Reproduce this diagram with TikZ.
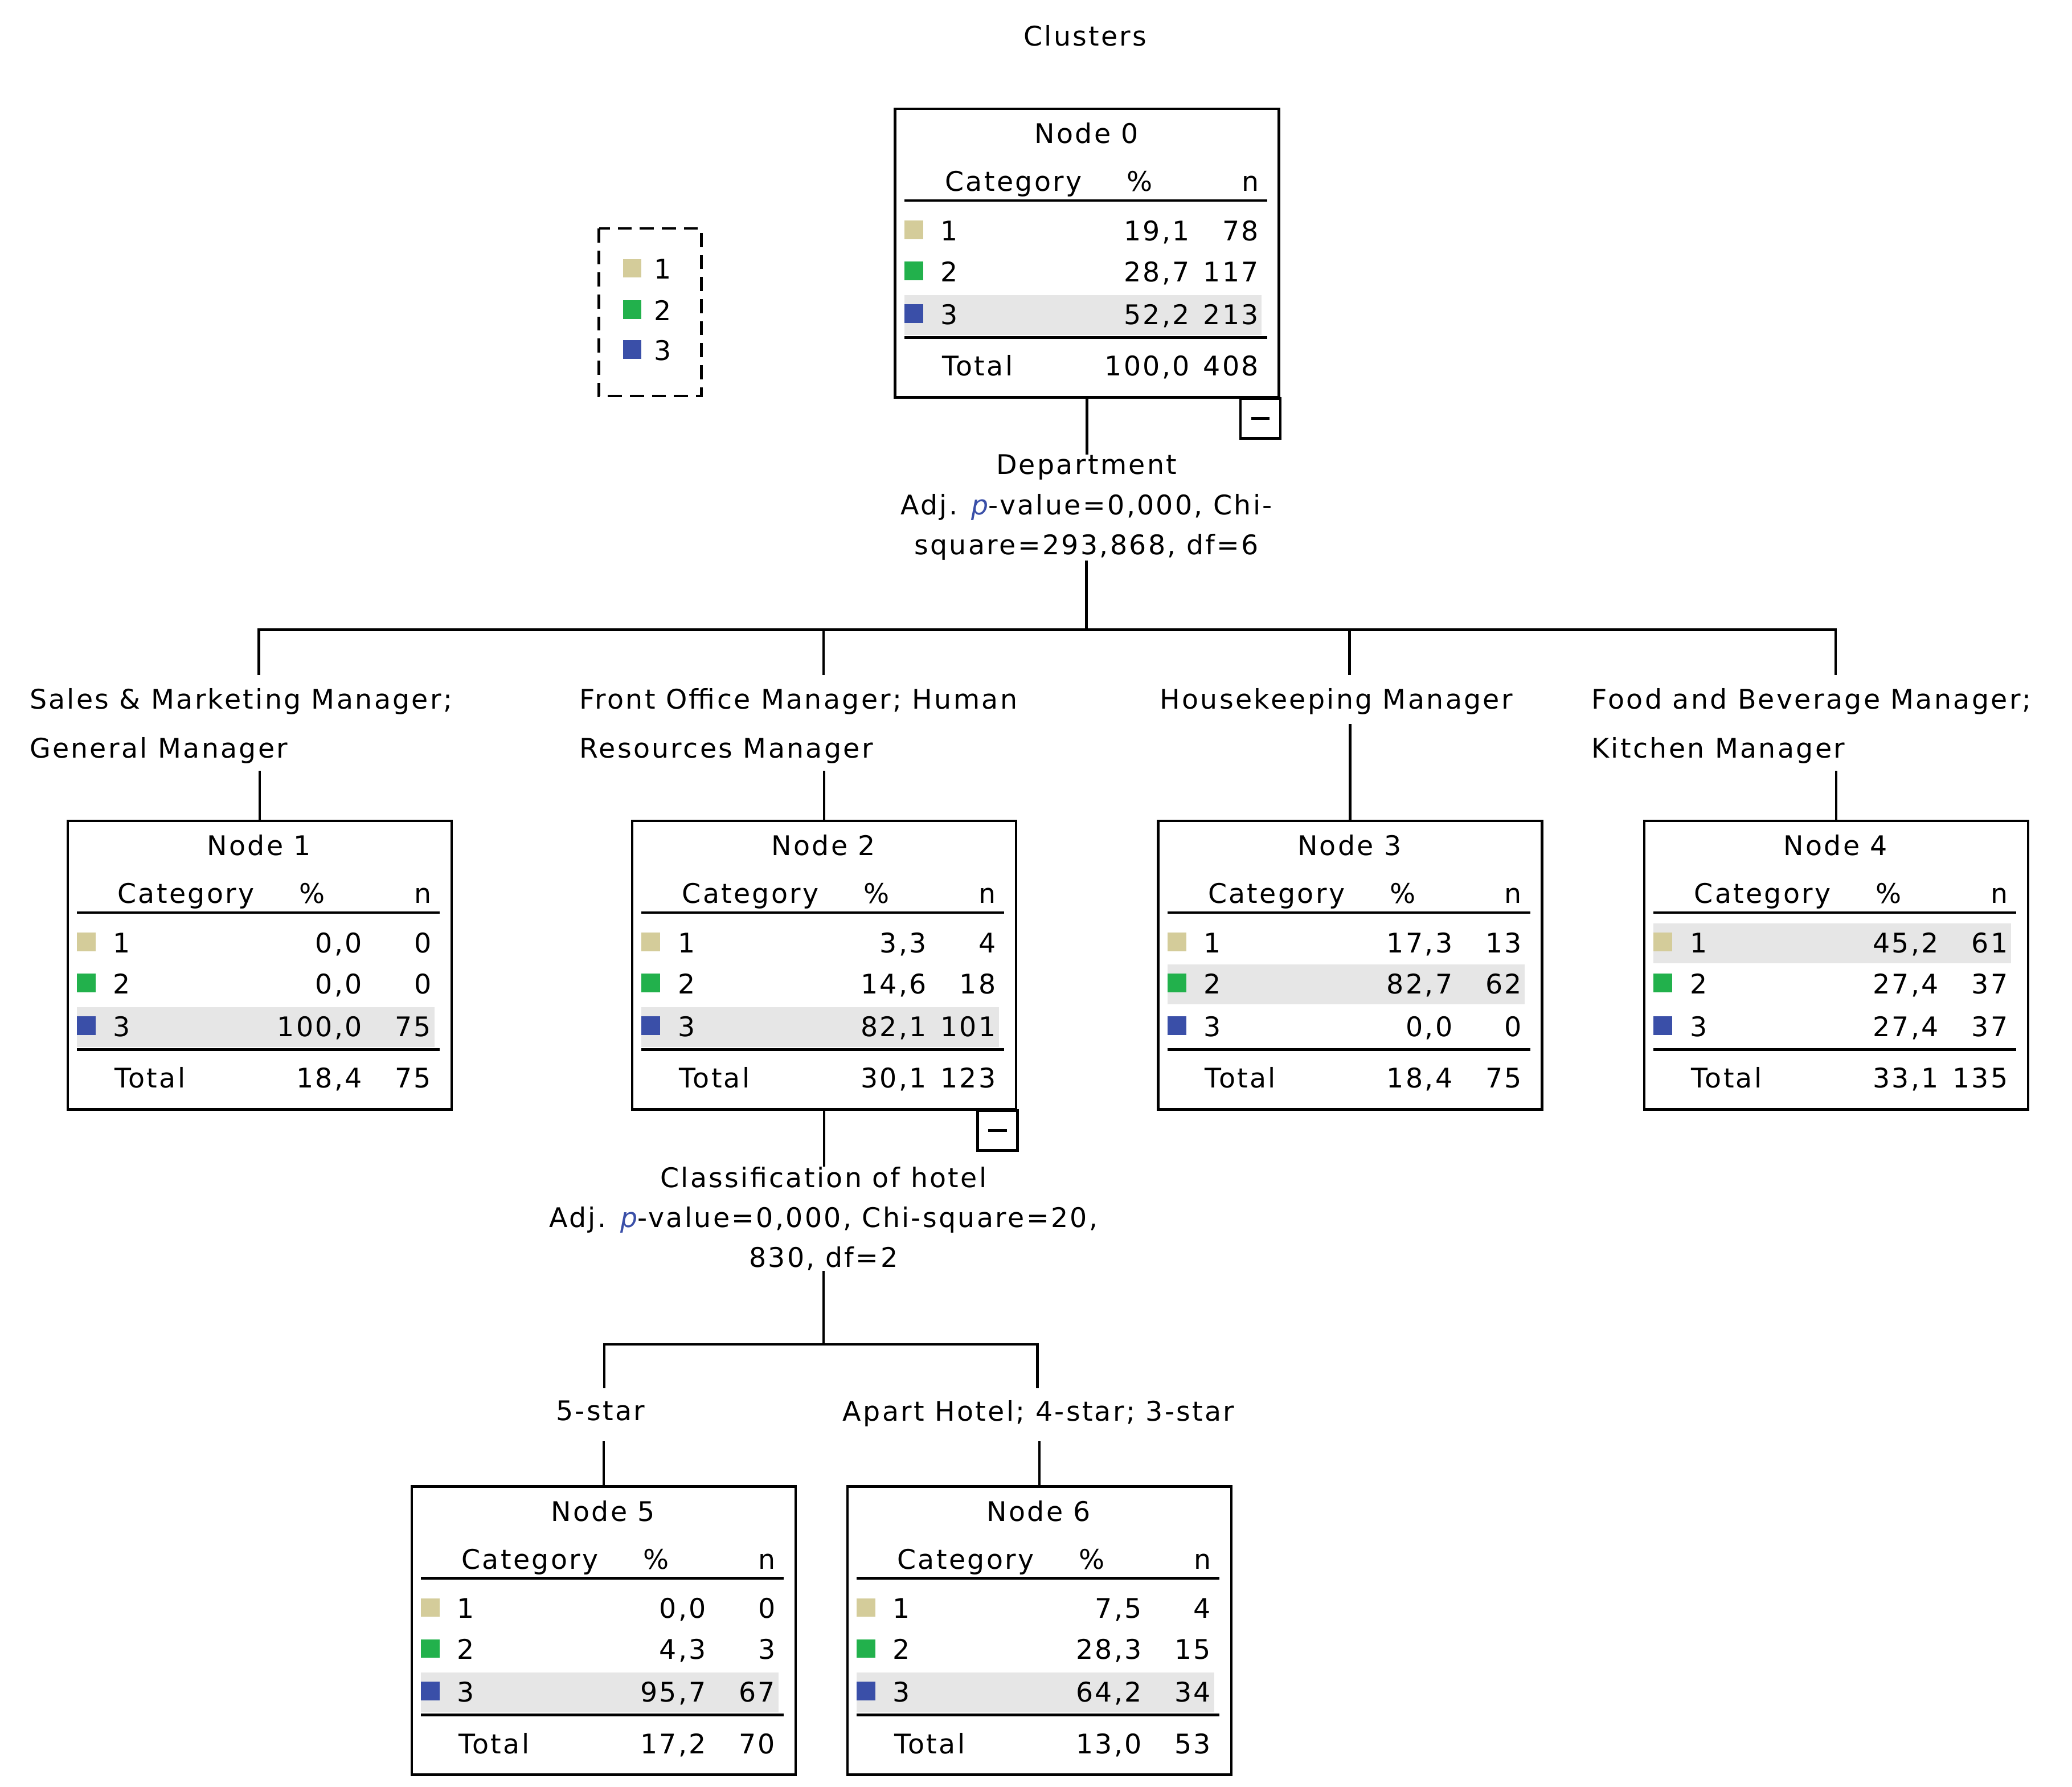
\documentclass[tikz,border=0pt]{standalone}
\usepackage{fontspec}
\setmainfont{DejaVu Sans}[LetterSpace=7]
\definecolor{c1}{HTML}{D4CC9A}
\definecolor{c2}{HTML}{22B14C}
\definecolor{c3}{HTML}{3A4FA8}
\definecolor{hl}{HTML}{E6E6E6}
\tikzset{x=0.02332cm,y=-0.02332cm,
  every node/.style={font=\fontsize{13.5}{17}\selectfont,inner sep=0pt},
  box/.style={draw,line width=1.3pt,anchor=north west,minimum width=289*0.02332cm,minimum height=217*0.02332cm},
  ln/.style={line width=1.3pt},
  lbl/.style={align=center,font=\fontsize{13.5}{20}\selectfont},
  elbl/.style={align=left,anchor=north west,font=\fontsize{13.5}{24.5}\selectfont}}
\newcommand\crow[5]{%
  \fill[#5] (8,#1-8) rectangle (22,#1+6);
  \node[anchor=base west] at (35,#1+7) {#2};
  \node[anchor=base east] at (223,#1+7) {#3};
  \node[anchor=base east] at (275,#1+7) {#4};}
\newcommand\catbox[6]{%
  \node[box] (#1) at (#2,#3) {};
  \begin{scope}[shift={(#2,#3)}]
  \fill[hl] (8,#5-15) rectangle (277,#5+15);
  \node[anchor=base] at (145,27) {Node #4};
  \node[anchor=base] at (90,63) {Category};
  \node[anchor=base] at (185,63) {\%};
  \node[anchor=base east] at (275,63) {n};
  \draw[ln] (8,70) -- (281,70);
  #6
  \draw[ln] (8,173) -- (281,173);
  \end{scope}}
\newcommand\tot[2]{\node[anchor=base west] at (36,202) {Total};
  \node[anchor=base east] at (223,202) {#1};
  \node[anchor=base east] at (275,202) {#2};}
\newcommand\minus[1]{\draw[ln] (#1.south east) rectangle ++(-30,30);
  \draw[ln] ([shift={(-22,15)}]#1.south east) -- ++(14,0);}
\begin{document}
\begin{tikzpicture}
\useasboundingbox (0,0) rectangle (1560,1345);
\node (title) at (817,27) {Clusters};
% legend
\draw[ln,dash pattern=on 7pt off 4pt] (451,172) rectangle (528,298);
\fill[c1] (469,195) rectangle (483,209); \node[anchor=base west] (l1) at (492,210) {1};
\fill[c2] (469,226) rectangle (483,240); \node[anchor=base west] (l2) at (492,241) {2};
\fill[c3] (469,256) rectangle (483,270); \node[anchor=base west] (l3) at (492,271) {3};
% boxes
\catbox{n0}{673}{81}{0}{156}{\crow{93}{1}{19,1}{78}{c1}\crow{124}{2}{28,7}{117}{c2}\crow{156}{3}{52,2}{213}{c3}\tot{100,0}{408}}
\catbox{n1}{50}{617}{1}{156}{\crow{93}{1}{0,0}{0}{c1}\crow{124}{2}{0,0}{0}{c2}\crow{156}{3}{100,0}{75}{c3}\tot{18,4}{75}}
\catbox{n2}{475}{617}{2}{156}{\crow{93}{1}{3,3}{4}{c1}\crow{124}{2}{14,6}{18}{c2}\crow{156}{3}{82,1}{101}{c3}\tot{30,1}{123}}
\catbox{n3}{871}{617}{3}{124}{\crow{93}{1}{17,3}{13}{c1}\crow{124}{2}{82,7}{62}{c2}\crow{156}{3}{0,0}{0}{c3}\tot{18,4}{75}}
\catbox{n4}{1237}{617}{4}{93}{\crow{93}{1}{45,2}{61}{c1}\crow{124}{2}{27,4}{37}{c2}\crow{156}{3}{27,4}{37}{c3}\tot{33,1}{135}}
\catbox{n5}{309}{1118}{5}{156}{\crow{93}{1}{0,0}{0}{c1}\crow{124}{2}{4,3}{3}{c2}\crow{156}{3}{95,7}{67}{c3}\tot{17,2}{70}}
\catbox{n6}{637}{1118}{6}{156}{\crow{93}{1}{7,5}{4}{c1}\crow{124}{2}{28,3}{15}{c2}\crow{156}{3}{64,2}{34}{c3}\tot{13,0}{53}}
\minus{n0}\minus{n2}
% split labels
\node[lbl,anchor=north] (s0) at (818,342) {Department\\Adj. \textit{\color{c3}p}-value=0,000, Chi-\\square=293,868, df=6};
\node[lbl,anchor=north] (s2) at (620,878) {Classification of hotel\\Adj. \textit{\color{c3}p}-value=0,000, Chi-square=20,\\830, df=2};
% edge labels
\node[elbl] (e1) at (22,518) {Sales \& Marketing Manager;\\General Manager};
\node[elbl] (e2) at (436,518) {Front Office Manager; Human\\Resources Manager};
\node[elbl] (e3) at (873,518) {Housekeeping Manager};
\node[elbl] (e4) at (1198,518) {Food and Beverage Manager;\\Kitchen Manager};
\node[lbl,anchor=north] (e5) at (452,1054) {5-star};
\node[lbl,anchor=north] (e6) at (782,1054) {Apart Hotel; 4-star; 3-star};
% connectors
\coordinate (b0) at (818,474);
\coordinate (b2) at (620,1012);
\draw[ln] (n0.south) -- (n0.south |- s0.north);
\draw[ln] (s0.south) -- (b0);
\draw[ln] (b0) -| (195,508); \draw[ln] (b0) -| (1382,508);
\draw[ln] (620,474) -- (620,508); \draw[ln] (1016,474) -- (1016,508);
\draw[ln] (n1.north) -- ++(0,-37); \draw[ln] (n2.north) -- ++(0,-37);
\draw[ln] (n3.north) -- ++(0,-72); \draw[ln] (n4.north) -- ++(0,-37);
\draw[ln] (n2.south) -- (n2.south |- s2.north);
\draw[ln] (s2.south) -- (b2);
\draw[ln] (b2) -| (455,1045); \draw[ln] (b2) -| (781,1045);
\draw[ln] (n5.north) -- ++(0,-33); \draw[ln] (n6.north) -- ++(0,-33);
\end{tikzpicture}
\end{document}
